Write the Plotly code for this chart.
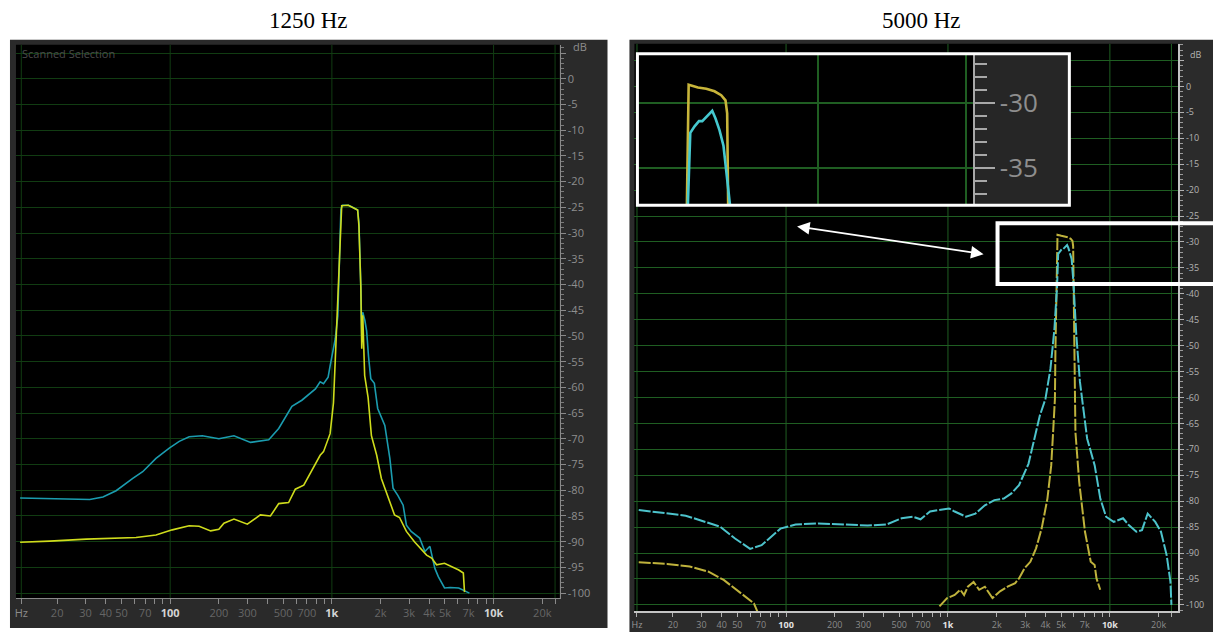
import math
import plotly.graph_objects as go

W, H = 1215, 634

# ---------------- data : 1250 Hz panel ----------------
f1250_cyan = [11.8, 14.9, 22.8, 31.8, 38.4, 46.3, 58.7, 67.6, 81.7, 98.7, 113.8, 131, 158, 200, 248, 314,
              407, 469, 566, 652, 791, 846, 888, 948, 975, 1049, 1088, 1109, 1137, 1162, 1265, 1324, 1443,
              1470, 1490, 1512, 1530, 1552, 1600, 1640, 1685, 1740, 1830, 1920, 2125, 2283, 2390, 2557,
              2758, 2890, 3092, 3488, 3760, 4036, 4335, 4551, 4973, 5385, 6090, 6720, 7088]
db1250_cyan = [-81.5, -81.6, -81.8, -81.8, -81.3, -80.1, -77.7, -76.4, -73.8, -71.8, -70.5, -69.6, -69.4,
               -70.0, -69.4, -70.7, -70.2, -68.0, -63.7, -62.5, -60.3, -58.9, -59.3, -58.0, -55.8, -50.6,
               -46.1, -34.4, -25.4, -24.6, -24.6, -24.9, -25.5, -28.0, -33.0, -40.9, -50.0, -45.4, -47.0,
               -49.0, -54.0, -58.3, -59.2, -64.1, -67.4, -73.8, -79.6, -81.0, -82.9, -86.8, -88.0, -89.3,
               -91.9, -90.9, -95.2, -96.8, -99.0, -98.9, -99.0, -99.7, -100.0]

f1250_yellow = [11.8, 18.0, 30.3, 61.5, 81.7, 103, 131, 151, 178, 200, 215, 248, 300, 361, 417, 469, 540,
                594, 670, 753, 846, 888, 956, 975, 1023, 1049, 1070, 1109, 1150, 1265, 1324, 1443, 1470,
                1510, 1530, 1552, 1595, 1675, 1756, 1893, 2023, 2230, 2440, 2620, 2890, 3240, 3555, 3853,
                4140, 4440, 4973, 5490, 6090, 6500, 6610]
db1250_yellow = [-90.1, -89.9, -89.5, -89.2, -88.7, -87.7, -86.9, -87.0, -87.9, -87.6, -86.4, -85.6, -86.6,
                 -84.8, -85.0, -82.6, -82.4, -79.8, -79.0, -76.1, -73.2, -72.5, -69.6, -69.0, -63.0, -54.5,
                 -47.3, -34.4, -24.7, -24.6, -24.9, -25.5, -28.6, -40.5, -52.5, -46.0, -57.7, -62.0, -69.4,
                 -73.2, -77.7, -81.6, -84.8, -85.3, -88.0, -90.0, -91.3, -92.6, -93.2, -94.5, -94.2, -94.8,
                 -95.5, -96.1, -99.8]

# ---------------- data : 5000 Hz panel ----------------
f5000_cyan = [12.3, 16.5, 24.0, 39.0, 48.4, 60.0, 70.6, 92.3, 114.6, 158, 243, 319, 417, 517, 608, 677,
              775, 1014, 1100, 1293, 1477, 1690, 1934, 2213, 2466, 2747, 3143, 3406, 3694, 3999, 4294,
              4545, 4721, 4795, 4915, 5041, 5138, 5258, 5442, 5546, 5675, 5807, 5875, 5956, 6209, 6535,
              7236, 8060, 8727, 9475, 10550, 12060, 13080, 14570, 15790, 17120, 19070, 20680, 22420,
              23660, 24000]
db5000_cyan = [-81.7, -82.2, -82.8, -84.9, -87.2, -89.2, -88.5, -85.3, -84.5, -84.3, -84.5, -84.7, -84.5,
               -83.3, -83.0, -83.5, -82.0, -81.4, -82.0, -83.0, -82.4, -80.8, -79.8, -79.5, -78.5, -76.9,
               -72.8, -67.9, -63.5, -60.3, -54.5, -46.8, -38.5, -32.3, -31.8, -31.4, -31.4, -31.1, -30.6,
               -31.2, -32.1, -33.3, -35.4, -37.8, -48.1, -57.0, -67.9, -73.1, -79.5, -83.0, -84.0, -83.3,
               -84.6, -85.9, -85.6, -82.4, -84.0, -85.9, -90.4, -95.5, -100.0]

f5000_yellow = [12.3, 18.4, 25.4, 33.2, 41.2, 51.1, 63.3, 68.0, None, 886, 988, 1100, 1192, 1258, 1327,
                1440, 1559, 1690, 1883, 2097, 2336, 2602, 2747, 2977, 3228, 3500, 3795, 4115, 4343, 4461,
                4577, 4609, 4690, 4750, 5012, 5258, 5514, 5731, 5875, 5932, 5966, 6030, 6090, 6128, 6465,
                7019, 7619, 8050, 8270, 8720]
db5000_yellow = [-91.8, -92.1, -92.6, -93.6, -95.2, -97.4, -99.7, -102.0, None, -100.3, -98.7, -98.1, -97.1,
                 -98.1, -96.5, -95.6, -97.1, -96.5, -98.7, -97.4, -96.5, -95.8, -94.9, -92.9, -91.7, -89.1,
                 -85.2, -79.5, -73.1, -66.7, -60.3, -51.3, -40.0, -28.6, -28.8, -28.9, -29.1, -29.4, -29.8,
                 -30.8, -37.8, -51.3, -60.3, -66.7, -76.3, -85.9, -91.7, -92.3, -94.9, -97.1]

# ---------------- ticks ----------------
tick_freqs = [12, 20, 30, 40, 50, 60, 70, 80, 90, 100, 200, 300, 400, 500, 600, 700, 800, 900,
              1000, 2000, 3000, 4000, 5000, 6000, 7000, 8000, 9000, 10000, 20000, 24000]
tick_labels = ['Hz', '20', '30', '40', '50', '', '70', '', '', '100', '200', '300', '', '500', '', '700', '', '',
               '1k', '2k', '3k', '4k', '5k', '', '7k', '', '', '10k', '20k', '']
bright_labels = ['100', '1k', '10k']
grid_freqs = [12, 100, 1000, 10000, 24000]
db_ticks = list(range(5, -101, -5))
db_labels = [''] + [str(v) for v in range(0, -101, -5)]
inset_db_ticks = [-30, -35]
inset_db_labels = ['-30', '-35']
inset_grid_freqs = [10000, 23600]
titles = ['1250 Hz', '5000 Hz']


def px(x):
    return x / W


def py(y):
    return (H - y) / H


def make_ticktext(hz, bright):
    out = []
    for lab in tick_labels:
        if lab in bright_labels:
            out.append('<b><span style="color:%s">%s</span></b>' % (bright, lab))
        elif lab == 'Hz':
            out.append('<span style="color:%s">Hz</span>' % hz)
        else:
            out.append(lab)
    return out


CY1, YE1 = '#1b9caf', '#cfdc1c'
CY2, YE2 = '#4dc3cc', '#bfb23c'
GRID1, GRID2 = '#113c12', '#1f5e22'
FONT = 'Open Sans'

fig = go.Figure()
# left panel
fig.add_trace(go.Scatter(x=f1250_cyan, y=db1250_cyan, xaxis='x', yaxis='y', mode='lines',
                         line=dict(color=CY1, width=1.6), hoverinfo='skip'))
fig.add_trace(go.Scatter(x=f1250_yellow, y=db1250_yellow, xaxis='x', yaxis='y', mode='lines',
                         line=dict(color=YE1, width=1.6), hoverinfo='skip'))
# right panel
fig.add_trace(go.Scatter(x=f5000_yellow, y=db5000_yellow, xaxis='x2', yaxis='y2', mode='lines',
                         line=dict(color=YE2, width=2, dash='12px,2px'), hoverinfo='skip'))
fig.add_trace(go.Scatter(x=f5000_cyan, y=db5000_cyan, xaxis='x2', yaxis='y2', mode='lines',
                         line=dict(color=CY2, width=2, dash='12px,2px'), hoverinfo='skip'))
# inset (zoom of the 5000 Hz peak)
fig.add_trace(go.Scatter(x=f5000_yellow, y=db5000_yellow, xaxis='x3', yaxis='y3', mode='lines',
                         line=dict(color='#c8b53a', width=2.6), hoverinfo='skip'))
fig.add_trace(go.Scatter(x=f5000_cyan, y=db5000_cyan, xaxis='x3', yaxis='y3', mode='lines',
                         line=dict(color='#45c8cf', width=2.6), hoverinfo='skip'))

common_x = dict(type='log', tickmode='array', tickvals=tick_freqs, ticks='outside',
                showgrid=False, zeroline=False, showline=True, fixedrange=True)
common_y = dict(tickmode='array', tickvals=db_ticks, ticktext=db_labels, side='right', ticks='outside',
                showline=True, showgrid=True, gridwidth=1, zeroline=False, fixedrange=True)

layout = dict(
    width=W, height=H, margin=dict(l=0, r=0, t=0, b=0),
    paper_bgcolor='white', plot_bgcolor='black', showlegend=False, hovermode=False,
    xaxis=dict(common_x, domain=[px(13), px(558)], range=[1.0463, 4.4084], anchor='y', ticklen=5,
               ticktext=make_ticktext('#8c8c8c', '#d4d4d4'),
               tickcolor='#8a8a8a', linecolor='#8a8a8a', linewidth=1,
               tickfont=dict(family=FONT, size=11, color='#666666')),
    yaxis=dict(common_y, domain=[py(600), py(45)], range=[-100.97, 6.59], anchor='x', ticklen=5,
               tickcolor='#8a8a8a', linecolor='#8a8a8a', linewidth=1, gridcolor=GRID1,
               minor=dict(tick0=0, dtick=1, ticks='outside', ticklen=3, tickcolor='#7a7a7a', showgrid=False),
               tickfont=dict(family=FONT, size=11, color='#8e8e8e')),
    xaxis2=dict(common_x, domain=[px(633), px(1178)], range=[1.0635, 4.4214], anchor='y2', ticklen=4,
                ticktext=make_ticktext('#9a9a9a', '#e2e2e2'),
                tickcolor='#b0b0b0', linecolor='#c4c4c4', linewidth=2,
                tickfont=dict(family=FONT, size=9, color='#8a8a8a')),
    yaxis2=dict(common_y, domain=[py(613), py(44)], range=[-101.2, 8.21], anchor='x2', ticklen=4,
                tickcolor='#b0b0b0', linecolor='#c4c4c4', linewidth=2, gridcolor=GRID2,
                minor=dict(tick0=0, dtick=1, ticks='outside', ticklen=3, tickcolor='#9a9a9a', showgrid=False),
                tickfont=dict(family=FONT, size=9, color='#b4b4b4')),
    xaxis3=dict(type='log', domain=[px(636), px(1068)], range=[3.5483, 4.6283], anchor='y3',
                tickmode='array', tickvals=inset_grid_freqs, showticklabels=False, ticks='',
                showgrid=True, gridcolor=GRID2, gridwidth=1.5, zeroline=False, showline=False, fixedrange=True),
    yaxis3=dict(domain=[py(205), py(54)], range=[-37.82, -26.21], anchor='free', position=px(973),
                side='right', tickmode='array', tickvals=inset_db_ticks,
                ticktext=inset_db_labels, ticks='outside', ticklen=20, tickwidth=2, tickcolor='#a8a8a8',
                showline=True, linecolor='#a8a8a8', linewidth=2, showgrid=True, gridcolor=GRID2,
                gridwidth=1.5, zeroline=False, fixedrange=True,
                minor=dict(tick0=0, dtick=1, ticks='outside', ticklen=12, tickwidth=2, tickcolor='#a8a8a8',
                           showgrid=False),
                tickfont=dict(family=FONT, size=26, color='#8e8e8e')),
)
fig.update_layout(**layout)

shapes = [
    # panel frames
    dict(type='rect', xref='paper', yref='paper', x0=px(7), x1=px(606), y0=py(630), y1=py(40),
         fillcolor='#2a2a2a', line=dict(width=0), layer='below'),
    dict(type='rect', xref='paper', yref='paper', x0=px(628), x1=px(1213), y0=py(634), y1=py(40),
         fillcolor='#2b2b2b', line=dict(width=0), layer='below'),
    # black plot areas
    dict(type='rect', xref='paper', yref='paper', x0=px(13), x1=px(558), y0=py(600), y1=py(45),
         fillcolor='black', line=dict(width=0), layer='below'),
    dict(type='rect', xref='paper', yref='paper', x0=px(633), x1=px(1178), y0=py(613), y1=py(44),
         fillcolor='black', line=dict(width=0), layer='below'),
]
for f in grid_freqs:
    shapes.append(dict(type='line', xref='x', yref='y domain', x0=f, x1=f, y0=0, y1=1,
                       line=dict(color=GRID1, width=1), layer='below'))
    shapes.append(dict(type='line', xref='x2', yref='y2 domain', x0=f, x1=f, y0=0, y1=1,
                       line=dict(color=GRID2, width=1), layer='below'))
# inset scale background (grey strip right of the inset axis)
shapes.append(dict(type='rect', xref='x3', yref='y3', x0=24590, x1=60000, y0=-45, y1=-20,
                   fillcolor='#262626', line=dict(width=0), layer='between'))
# inset white border
shapes.append(dict(type='rect', xref='paper', yref='paper', x0=px(636), x1=px(1069), y0=py(206), y1=py(54),
                   fillcolor='rgba(0,0,0,0)', line=dict(color='white', width=3), layer='above'))
# highlight box around the peak
shapes.append(dict(type='rect', xref='paper', yref='paper', x0=px(997), x1=px(1222), y0=py(285), y1=py(224),
                   fillcolor='rgba(0,0,0,0)', line=dict(color='white', width=4), layer='above'))
fig.update_layout(shapes=shapes)

annotations = [
    dict(text=titles[0], x=px(306), y=py(21), xref='paper', yref='paper', showarrow=False,
         font=dict(family='Liberation Serif', size=23, color='black'), xanchor='center', yanchor='middle'),
    dict(text=titles[1], x=px(921), y=py(21), xref='paper', yref='paper', showarrow=False,
         font=dict(family='Liberation Serif', size=23, color='black'), xanchor='center', yanchor='middle'),
    dict(text='Scanned Selection', x=px(17), y=py(54), xref='paper', yref='paper', showarrow=False,
         font=dict(family=FONT, size=11, color='#4c4c4c'), xanchor='left', yanchor='middle'),
    dict(text='dB', x=px(569), y=py(47), xref='paper', yref='paper', showarrow=False,
         font=dict(family=FONT, size=11, color='#8e8e8e'), xanchor='left', yanchor='middle'),
    dict(text='dB', x=px(1188), y=py(55), xref='paper', yref='paper', showarrow=False,
         font=dict(family=FONT, size=9, color='#b4b4b4'), xanchor='left', yanchor='middle'),
    # double-headed arrow
    dict(text='', x=px(983), y=py(255), xref='paper', yref='paper', ax=795 - 983, ay=227 - 255,
         showarrow=True, arrowhead=2, startarrowhead=2, arrowside='end+start', arrowsize=1.4,
         arrowwidth=1.8, arrowcolor='white', standoff=0, startstandoff=0),
]
fig.update_layout(annotations=annotations)

fig.write_html('out.html', config={'displayModeBar': False},
               post_script="document.body.style.margin='0';document.body.style.overflow='hidden';")
